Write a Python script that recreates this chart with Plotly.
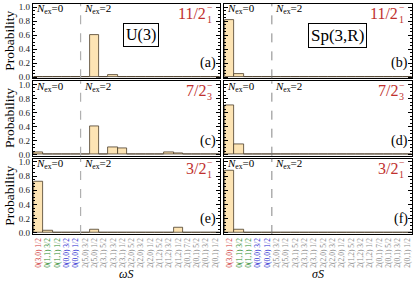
import plotly.graph_objects as go

categories = ["0(3,0) 1/2", "0(1,1) 3/2", "0(1,1) 1/2", "0(0,0) 3/2", "0(0,0) 1/2",
              "2(5,0) 3/2", "2(5,0) 1/2", "2(3,1) 5/2", "2(3,1) 3/2", "2(3,1) 1/2",
              "2(2,0) 5/2", "2(2,0) 3/2", "2(2,0) 1/2", "2(1,2) 5/2", "2(1,2) 3/2",
              "2(1,2) 1/2", "2(0,1) 7/2", "2(0,1) 5/2", "2(0,1) 3/2", "2(0,1) 1/2"]
label_colors = ["#d03a3a", "#2e8b2e", "#2e8b2e", "#2a2ad0", "#2a2ad0"] + ["#8a8a8a"] * 15

# U(3) decomposition
u3_11_2m1 = [0, 0, 0, 0, 0, 0.005, 0.61, 0, 0.03, 0, 0, 0, 0, 0, 0, 0, 0, 0, 0, 0]
u3_7_2m3 = [0.04, 0, 0, 0, 0, 0, 0.41, 0, 0.10, 0.09, 0, 0.003, 0, 0, 0.04, 0.015, 0, 0, 0, 0]
u3_3_2m1 = [0.72, 0.03, 0.01, 0, 0, 0, 0.05, 0, 0.01, 0.01, 0, 0, 0, 0, 0.002, 0.075, 0, 0, 0, 0]
# Sp(3,R) decomposition
sp_11_2m1 = [0.82, 0.05, 0, 0, 0, 0.005, 0.005, 0, 0.008, 0.005, 0, 0, 0, 0.003, 0.003, 0, 0, 0, 0, 0]
sp_7_2m3 = [0.70, 0.15, 0, 0, 0, 0.005, 0.003, 0, 0.008, 0.003, 0, 0, 0, 0, 0.005, 0, 0, 0, 0, 0]
sp_3_2m1 = [0.87, 0.04, 0.01, 0, 0, 0, 0.003, 0, 0.01, 0.002, 0, 0, 0, 0, 0.002, 0, 0, 0, 0, 0]

state_main = ["11/2", "7/2", "3/2"]
state_sub = ["1", "3", "1"]
panel_tags = ["(a)", "(b)", "(c)", "(d)", "(e)", "(f)"]
yticks = [0.0, 0.2, 0.4, 0.6, 0.8, 1.0]

SERIF = "Liberation Serif"
RED = "#c0302e"

fig = go.Figure()

data_rows = [(u3_11_2m1, sp_11_2m1), (u3_7_2m3, sp_7_2m3), (u3_3_2m1, sp_3_2m1)]
xdom = [[0.0, 0.4934], [0.504, 1.0]]
ydom = [[0.6767, 1.0], [0.3405, 0.6638], [0.0, 0.3276]]

ticktext = [f'<span style="color:{c}">{t}</span>' for t, c in zip(categories, label_colors)]
xs = list(range(len(categories)))

annotations = []
shapes = []
layout = {}
k = 0
for r in range(3):
    for c in range(2):
        k += 1
        sfx = "" if k == 1 else str(k)
        xa, ya = "x" + sfx, "y" + sfx
        vals = data_rows[r][c]
        fig.add_trace(go.Bar(x=xs, y=vals, xaxis=xa, yaxis=ya, width=1.0,
                             marker=dict(color="#fde4b4", line=dict(color="#4a3c28", width=0.8)),
                             showlegend=False, hoverinfo="skip"))
        layout["xaxis" + sfx] = dict(
            domain=xdom[c], anchor=ya, range=[-0.62, 19.5],
            showline=True, linecolor="black", linewidth=1.2, mirror=True,
            ticks="", showgrid=False, zeroline=False,
            tickmode="array", tickvals=xs, ticktext=ticktext,
            showticklabels=(r == 2), tickangle=-90,
            tickfont=dict(family=SERIF, size=7.5))
        layout["yaxis" + sfx] = dict(
            domain=ydom[r], anchor=xa, range=[-0.015, 1.045],
            showline=True, linecolor="black", linewidth=1.2, mirror="allticks",
            ticks="inside", ticklen=4, tickwidth=1, tickcolor="black",
            tickmode="array", tickvals=yticks, ticktext=[f"{v:.1f}" for v in yticks],
            showticklabels=(c == 0), showgrid=False, zeroline=False,
            minor=dict(ticks="inside", ticklen=2, dtick=0.05, tickcolor="black"),
            tickfont=dict(family=SERIF, size=9, color="#222"))
        # dashed separator
        shapes.append(dict(type="line", xref=xa, yref=ya + " domain", x0=4.5, x1=4.5, y0=0, y1=1,
                           line=dict(color="#b0b0b0" if c == 0 else "#666", width=1.2 if c == 0 else 0.8,
                                     dash="dash")))
        xd, yd = xa + " domain", ya + " domain"
        for lab, xpos in (("0", -0.5), ("2", 4.65)):
            annotations.append(dict(text=f"<i>N</i><sub>ex</sub>=" + lab, xref=xa, yref=yd,
                                    x=xpos, y=0.93, xanchor="left", yanchor="middle", showarrow=False,
                                    font=dict(family=SERIF, size=11, color="black")))
        annotations.append(dict(text=state_main[r], xref=xd, yref=yd, x=0.935, y=0.87,
                                xanchor="right", yanchor="middle", showarrow=False,
                                font=dict(family=SERIF, size=16, color=RED)))
        annotations.append(dict(text="\u2212", xref=xd, yref=yd, x=0.922, y=0.95,
                                xanchor="left", yanchor="middle", showarrow=False,
                                font=dict(family=SERIF, size=10, color=RED)))
        annotations.append(dict(text=state_sub[r], xref=xd, yref=yd, x=0.922, y=0.79,
                                xanchor="left", yanchor="middle", showarrow=False,
                                font=dict(family=SERIF, size=10, color=RED)))
        annotations.append(dict(text=panel_tags[k - 1], xref=xd, yref=yd, x=0.99, y=0.2,
                                xanchor="right", yanchor="middle", showarrow=False,
                                font=dict(family=SERIF, size=14, color="black")))
        if c == 0:
            annotations.append(dict(text="Probability", xref="paper", yref=yd, x=-0.062, y=0.5,
                                    textangle=-90, xanchor="center", yanchor="middle", showarrow=False,
                                    font=dict(family=SERIF, size=13.5, color="black")))
        if r == 0:
            annotations.append(dict(text="U(3)" if c == 0 else "Sp(3,R)", xref=xd, yref=yd,
                                    x=0.578 if c == 0 else 0.606, y=0.58, xanchor="center",
                                    yanchor="middle", showarrow=False, bordercolor="black",
                                    borderwidth=1, borderpad=2, bgcolor="white",
                                    font=dict(family=SERIF, size=16 if c == 0 else 17, color="black")))
        if r == 2:
            annotations.append(dict(text="<i>ωS</i>" if c == 0 else "<i>σS</i>", xref=xd, yref="paper",
                                    x=0.5, y=-0.172, xanchor="center", yanchor="middle", showarrow=False,
                                    font=dict(family=SERIF, size=12, color="black")))

fig.update_layout(width=415, height=282, margin=dict(l=33, r=3, t=2, b=48),
                  paper_bgcolor="white", plot_bgcolor="white", bargap=0,
                  annotations=annotations, shapes=shapes, **layout)
fig.write_html("out.html", config={"displayModeBar": False},
               post_script="document.body.style.margin='0';document.body.style.overflow='hidden';")
